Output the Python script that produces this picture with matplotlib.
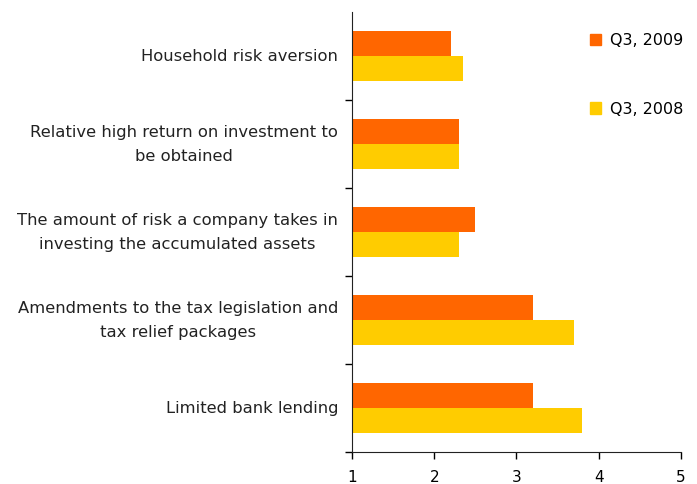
import matplotlib
matplotlib.use("Agg")
import matplotlib.pyplot as plt
from matplotlib.patches import Patch
import numpy as np

categories = [
    "Household risk aversion",
    "Relative high return on investment to\nbe obtained",
    "The amount of risk a company takes in\ninvesting the accumulated assets",
    "Amendments to the tax legislation and\ntax relief packages",
    "Limited bank lending",
]
q3_2009 = [2.2, 2.3, 2.5, 3.2, 3.2]
q3_2008 = [2.35, 2.3, 2.3, 3.7, 3.8]
xticks = [1, 2, 3, 4, 5]

c2009 = "#ff6600"
c2008 = "#ffcc00"

plt.rcParams["font.family"] = ["DejaVu Sans"]
fig = plt.figure(figsize=(6.97, 4.84), dpi=100)
ax = fig.add_axes([0.505, 0.066, 0.472, 0.909])

y = np.arange(len(categories))
h = 0.284
ax.barh(y - h / 2, np.array(q3_2009) - 1, height=h, left=1, color=c2009, label="Q3, 2009")
ax.barh(y + h / 2, np.array(q3_2008) - 1, height=h, left=1, color=c2008, label="Q3, 2008")

ax.set_xlim(1, 5)
ax.set_ylim(len(categories) - 0.5, -0.5)
ax.set_xticks(xticks)
ax.set_xticklabels([str(t) for t in xticks], fontsize=11)
ax.tick_params(axis="x", length=5, width=1, pad=8, direction="out")

# category boundaries get the tick marks, labels sit at the centres
ax.set_yticks(np.arange(0.5, len(categories), 1.0))
ax.set_yticklabels([])
ax.tick_params(axis="y", length=5, width=1, direction="out")
for yi, lab in zip(y, categories):
    ax.text(-0.042, yi, lab, transform=ax.get_yaxis_transform(), ha="right",
            va="center", multialignment="center", fontsize=11.8, linespacing=1.75,
            color="#222222")

for s in ["top", "right"]:
    ax.spines[s].set_visible(False)
for s in ["left", "bottom"]:
    ax.spines[s].set_color("#222222")

handles = [Patch(color=c2009, label="Q3, 2009"), Patch(color=c2008, label="Q3, 2008")]
ax.legend(handles=handles, loc="upper right", bbox_to_anchor=(1.05, 0.985),
          frameon=False, fontsize=11.5, labelspacing=3.35, handlelength=0.7,
          handleheight=0.7, handletextpad=0.55)

fig.savefig("out.png", dpi=100)
